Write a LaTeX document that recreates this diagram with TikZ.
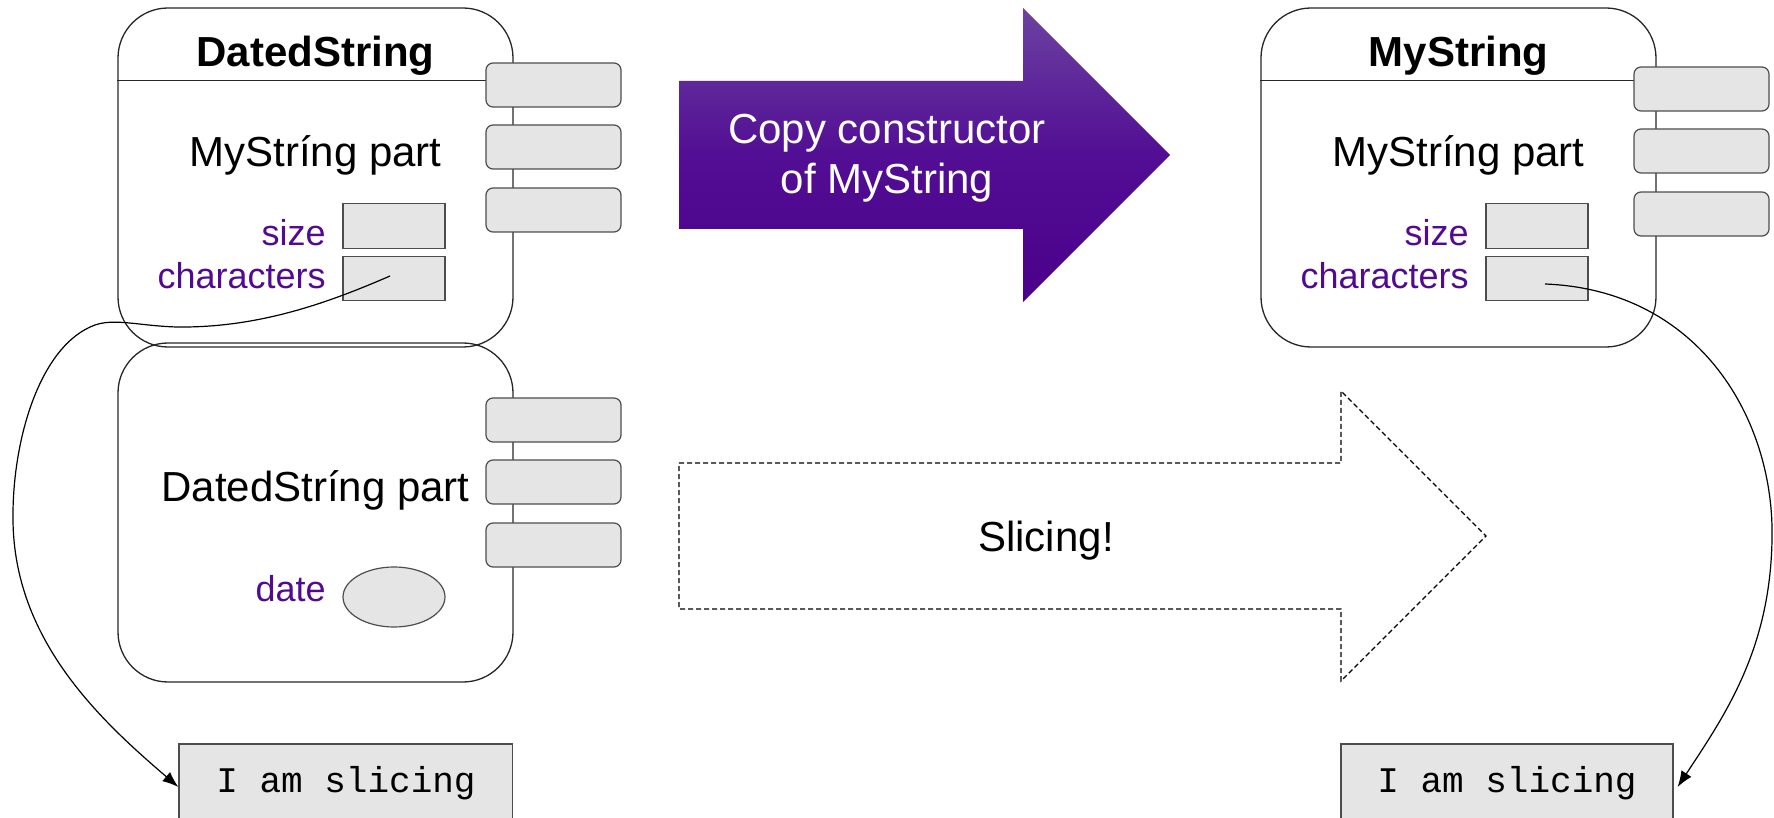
\documentclass[tikz,border=0pt]{standalone}
\usepackage{fontspec}
\setmainfont{Liberation Sans}
\setmonofont{Liberation Mono}
\usetikzlibrary{arrows.meta,shapes.geometric}
\definecolor{lblpurple}{RGB}{82,10,145}
\definecolor{arrtop}{RGB}{108,66,160}
\definecolor{arrmid}{RGB}{82,14,148}
\definecolor{arrbot}{RGB}{75,0,138}
\definecolor{fieldgray}{RGB}{229,229,229}
\definecolor{edgegray}{RGB}{77,77,77}
\newcommand\myfs{\fontsize{21pt}{25pt}\selectfont}
\newcommand\mylblfs{\fontsize{18pt}{21pt}\selectfont}
\newcommand\mymono{\fontsize{18pt}{21pt}\selectfont\ttfamily}
\begin{document}
\begin{tikzpicture}[x=0.5pt,y=-0.5pt,
  bigbox/.style={draw=black!85, line width=0.65pt, rounded corners=25pt, rectangle,
    minimum width=197.5pt, minimum height=169.5pt, inner sep=0pt},
  hdr/.style={draw=black!85, line width=0.65pt},
  meth/.style={draw=edgegray, fill=fieldgray, line width=0.6pt, rounded corners=3.5pt,
    rectangle, minimum width=67.5pt, minimum height=22pt, inner sep=0pt},
  field/.style={draw=edgegray, fill=fieldgray, line width=0.6pt, rectangle,
    minimum width=51pt, minimum height=22.25pt, inner sep=0pt},
  oval/.style={draw=edgegray, fill=fieldgray, line width=0.6pt, ellipse,
    minimum width=51pt, minimum height=30pt, inner sep=0pt},
  slbox/.style={draw=edgegray, fill=fieldgray, line width=0.6pt, rectangle,
    minimum height=43pt, inner sep=0pt},
  ttl/.style={font=\myfs\bfseries, anchor=base, inner sep=0pt},
  part/.style={font=\myfs, anchor=base, inner sep=0pt},
  lbl/.style={font=\mylblfs, text=lblpurple, anchor=base east, inner sep=0pt},
  ctext/.style={font=\myfs, text=white, anchor=base, inner sep=0pt},
  mono/.style={font=\mymono, anchor=base, inner sep=0pt},
  dashy/.style={draw=black, line width=0.6pt, dash pattern=on 2.5pt off 1.5pt},
  conn/.style={draw=black, line width=0.6pt, -{Latex[length=8pt,width=6pt]}}
]
\useasboundingbox (0,0) rectangle (1774,818);
\clip (0,0) rectangle (1774,818);

% big boxes
\node[bigbox] (ds) at (315.5,177.5) {};
\node[bigbox] (dsp) at (315.5,512.5) {};
\node[bigbox] (ms) at (1458.5,177.5) {};
\draw[hdr] ([yshift=-36.5pt]ds.north west) -- ([yshift=-36.5pt]ds.north east);
\draw[hdr] ([yshift=-36.5pt]ms.north west) -- ([yshift=-36.5pt]ms.north east);

% titles and parts
\node[ttl] (dsT) at (315.5,67) {DatedString};
\node[ttl] (msT) at (1458.5,67) {MyString};
\node[part] (dsP1) at (315.5,167) {MyStríng part};
\node[part] (dsP2) at (315.5,502) {DatedStríng part};
\node[part] (msP) at (1458.5,167) {MyStríng part};

% method boxes
\node[meth] (m1) at (553.5,85) {};
\node[meth] (m2) at (553.5,147) {};
\node[meth] (m3) at (553.5,210) {};
\node[meth] (m4) at (553.5,420) {};
\node[meth] (m5) at (553.5,482) {};
\node[meth] (m6) at (553.5,545) {};
\node[meth] (m7) at (1701.5,89) {};
\node[meth] (m8) at (1701.5,151) {};
\node[meth] (m9) at (1701.5,214) {};

% fields
\node[field] (fs1) at (394,226) {};
\node[field] (fc1) at (394,278.5) {};
\node[oval] (fd) at (394,597) {};
\node[field] (fs2) at (1537,226) {};
\node[field] (fc2) at (1537,278.5) {};
\node[lbl] (ls1) at (326,246) {size};
\node[lbl] (lc1) at (326,289) {characters};
\node[lbl] (ld) at (326,601) {date};
\node[lbl] (ls2) at (1469,246) {size};
\node[lbl] (lc2) at (1469,289) {characters};

% copy constructor arrow
\shade[top color=arrtop, bottom color=arrbot, middle color=arrmid]
  (679,81) -- (1023,81) -- (1023,8) -- (1170,155) -- (1023,302) -- (1023,229) -- (679,229) -- cycle;
\node[ctext] (cc1) at (887,144) {Copy constructor};
\node[ctext] (cc2) at (887,194) {of MyString};

% slicing arrow
\draw[dashy] (679,463) -- (1341,463) -- (1341,391) -- (1486,536) -- (1341,681) -- (1341,609) -- (679,609) -- cycle;
\node[part] (slc) at (1046,551) {Slicing!};

% string buffers
\node[slbox, minimum width=166.75pt] (slL) at (345.75,787) {};
\node[mono] (tL) at (346,792) {I am slicing};
\node[slbox, minimum width=166pt] (slR) at (1507,787) {};
\node[mono] (tR) at (1507,792) {I am slicing};

% connectors
\coordinate (cL) at (390,276);
\coordinate (cR) at (1545,284);
\draw[conn] (cL) .. controls (330,302) and (260,328) .. (177,327)
  .. controls (140,326) and (115,318) .. (95,325)
  .. controls (40,345) and (12,440) .. (13,520)
  .. controls (14,640) and (100,720) .. (slL.west);
\draw[conn] (cR) .. controls (1700,290) and (1775,420) .. (1772,540)
  .. controls (1770,650) and (1725,715) .. ([xshift=2pt]slR.east);
\end{tikzpicture}
\end{document}
